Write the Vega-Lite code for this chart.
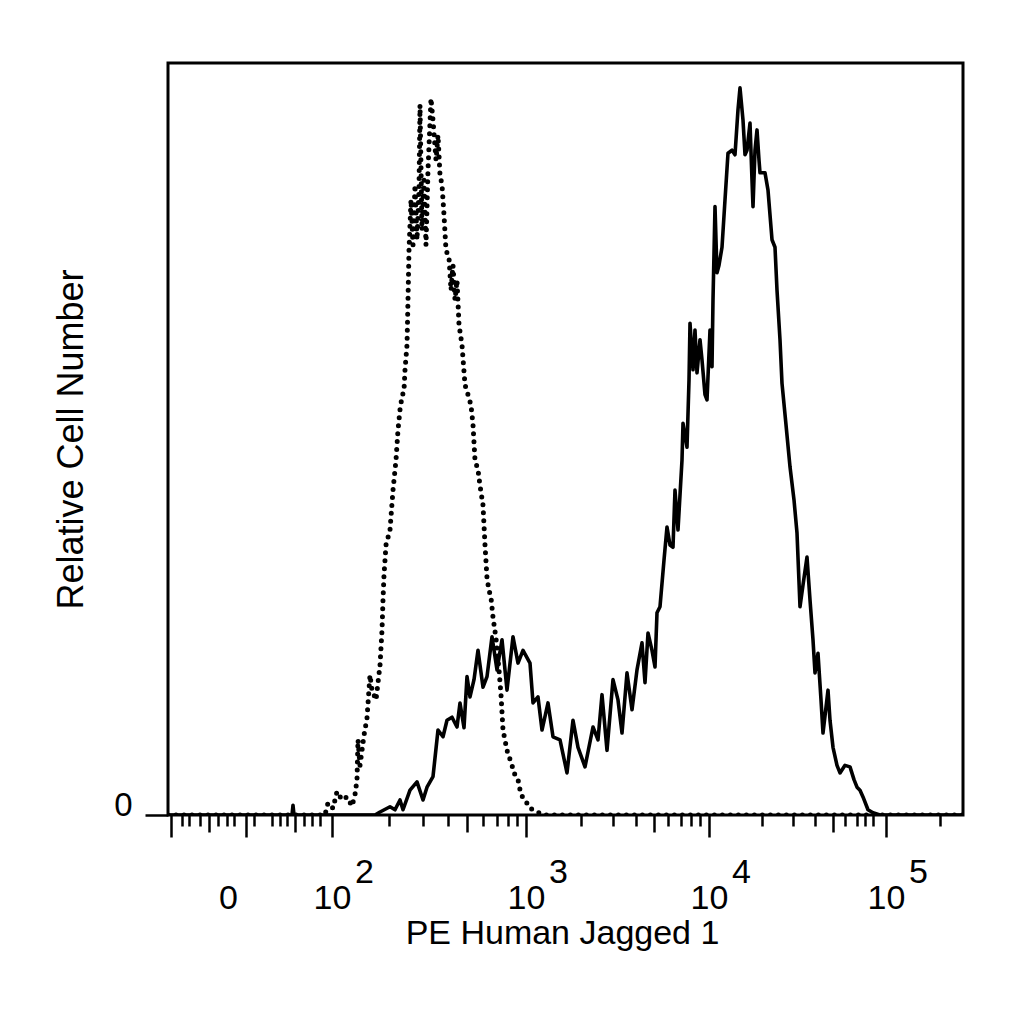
{
  "$schema": "https://vega.github.io/schema/vega-lite/v6.json",
  "width": 795,
  "height": 752,
  "autosize": "none",
  "padding": {"left": 168, "top": 63, "right": 61, "bottom": 209},
  "background": "white",
  "config": {
    "view": {"stroke": "black", "strokeWidth": 3},
    "axis": {
      "labelFont": "Liberation Sans",
      "titleFont": "Liberation Sans",
      "labelColor": "black",
      "titleColor": "black",
      "tickColor": "black",
      "titleFontWeight": "normal",
      "grid": false,
      "domain": false
    }
  },
  "datasets": {
    "control": [
      {"channel": 0, "count": 0}, {"channel": 122, "count": 0}, {"channel": 157, "count": 0},
      {"channel": 160, "count": 1.6}, {"channel": 165, "count": 0.9}, {"channel": 169, "count": 3.1},
      {"channel": 174, "count": 2.0}, {"channel": 179, "count": 2.4}, {"channel": 184, "count": 1.2},
      {"channel": 187, "count": 2.7}, {"channel": 189, "count": 4.7}, {"channel": 190, "count": 10.0},
      {"channel": 192, "count": 6.6}, {"channel": 196, "count": 10.6}, {"channel": 199, "count": 12.9},
      {"channel": 202, "count": 18.6}, {"channel": 204, "count": 16.6}, {"channel": 208, "count": 15.3},
      {"channel": 212, "count": 19.9}, {"channel": 214, "count": 24.6}, {"channel": 215, "count": 28.6},
      {"channel": 216, "count": 31.9}, {"channel": 217, "count": 33.9}, {"channel": 218, "count": 35.9},
      {"channel": 222, "count": 37.9}, {"channel": 225, "count": 43.2}, {"channel": 228, "count": 47.2},
      {"channel": 230, "count": 51.2}, {"channel": 232, "count": 53.9}, {"channel": 234, "count": 55.6},
      {"channel": 236, "count": 56.5}, {"channel": 237, "count": 59.2}, {"channel": 239, "count": 62.5},
      {"channel": 240, "count": 68.5}, {"channel": 241, "count": 75.1}, {"channel": 243, "count": 81.8},
      {"channel": 245, "count": 75.8}, {"channel": 247, "count": 83.8}, {"channel": 249, "count": 76.5},
      {"channel": 251, "count": 83.1}, {"channel": 252, "count": 94.4}, {"channel": 254, "count": 77.8},
      {"channel": 256, "count": 84.4}, {"channel": 258, "count": 75.8}, {"channel": 260, "count": 85.8},
      {"channel": 263, "count": 95.3}, {"channel": 265, "count": 92.4}, {"channel": 268, "count": 87.1},
      {"channel": 270, "count": 90.4}, {"channel": 272, "count": 85.1}, {"channel": 274, "count": 83.8},
      {"channel": 276, "count": 79.8}, {"channel": 278, "count": 75.1}, {"channel": 281, "count": 74.1},
      {"channel": 283, "count": 69.8}, {"channel": 285, "count": 73.1}, {"channel": 287, "count": 68.5},
      {"channel": 289, "count": 71.1}, {"channel": 291, "count": 65.2}, {"channel": 294, "count": 62.5},
      {"channel": 297, "count": 57.2}, {"channel": 300, "count": 55.9}, {"channel": 303, "count": 54.5},
      {"channel": 305, "count": 51.9}, {"channel": 307, "count": 47.2}, {"channel": 310, "count": 45.9},
      {"channel": 312, "count": 43.8}, {"channel": 315, "count": 41.2}, {"channel": 317, "count": 35.9},
      {"channel": 319, "count": 31.5}, {"channel": 321, "count": 29.9}, {"channel": 323, "count": 28.9},
      {"channel": 325, "count": 26.3}, {"channel": 328, "count": 23.5}, {"channel": 331, "count": 19.3},
      {"channel": 333, "count": 16.0}, {"channel": 335, "count": 11.3}, {"channel": 339, "count": 8.6},
      {"channel": 343, "count": 7.0}, {"channel": 347, "count": 5.3}, {"channel": 350, "count": 4.7},
      {"channel": 353, "count": 2.7}, {"channel": 357, "count": 2.0}, {"channel": 362, "count": 0.9},
      {"channel": 369, "count": 0.4}, {"channel": 377, "count": 0}, {"channel": 795, "count": 0}
    ],
    "stained": [
      {"channel": 0, "count": 0}, {"channel": 124, "count": 0}, {"channel": 125, "count": 1.3},
      {"channel": 126, "count": 0}, {"channel": 207, "count": 0}, {"channel": 212, "count": 0.4},
      {"channel": 222, "count": 1.1}, {"channel": 227, "count": 0.7}, {"channel": 232, "count": 2.0},
      {"channel": 235, "count": 0.7}, {"channel": 242, "count": 3.3}, {"channel": 249, "count": 4.4},
      {"channel": 255, "count": 2.0}, {"channel": 259, "count": 3.7}, {"channel": 265, "count": 5.1},
      {"channel": 270, "count": 11.3}, {"channel": 275, "count": 10.4}, {"channel": 279, "count": 12.6},
      {"channel": 284, "count": 13.0}, {"channel": 289, "count": 11.7}, {"channel": 292, "count": 14.9},
      {"channel": 296, "count": 11.6}, {"channel": 299, "count": 18.4}, {"channel": 302, "count": 15.7},
      {"channel": 306, "count": 18.0}, {"channel": 310, "count": 21.9}, {"channel": 315, "count": 17.0},
      {"channel": 319, "count": 18.4}, {"channel": 324, "count": 23.7}, {"channel": 329, "count": 19.3},
      {"channel": 334, "count": 23.3}, {"channel": 339, "count": 16.6}, {"channel": 345, "count": 23.7},
      {"channel": 350, "count": 20.2}, {"channel": 355, "count": 21.9}, {"channel": 362, "count": 20.2},
      {"channel": 365, "count": 14.9}, {"channel": 370, "count": 15.7}, {"channel": 374, "count": 11.3},
      {"channel": 380, "count": 14.9}, {"channel": 385, "count": 10.4}, {"channel": 392, "count": 10.0},
      {"channel": 399, "count": 5.6}, {"channel": 405, "count": 12.6}, {"channel": 410, "count": 9.0},
      {"channel": 417, "count": 6.4}, {"channel": 425, "count": 11.7}, {"channel": 430, "count": 10.0},
      {"channel": 434, "count": 16.0}, {"channel": 439, "count": 8.6}, {"channel": 445, "count": 18.0},
      {"channel": 450, "count": 15.3}, {"channel": 454, "count": 10.9}, {"channel": 459, "count": 18.9},
      {"channel": 464, "count": 14.0}, {"channel": 469, "count": 19.3}, {"channel": 474, "count": 22.9},
      {"channel": 477, "count": 17.6}, {"channel": 480, "count": 24.2}, {"channel": 484, "count": 21.9},
      {"channel": 487, "count": 19.7}, {"channel": 489, "count": 26.9}, {"channel": 492, "count": 27.7},
      {"channel": 496, "count": 33.9}, {"channel": 499, "count": 38.3}, {"channel": 502, "count": 35.9},
      {"channel": 505, "count": 35.6}, {"channel": 507, "count": 43.2}, {"channel": 510, "count": 37.9},
      {"channel": 514, "count": 47.2}, {"channel": 515, "count": 52.1}, {"channel": 519, "count": 48.9},
      {"channel": 521, "count": 57.8}, {"channel": 522, "count": 65.4}, {"channel": 525, "count": 59.2},
      {"channel": 527, "count": 64.5}, {"channel": 529, "count": 58.8}, {"channel": 532, "count": 63.2},
      {"channel": 534, "count": 60.5}, {"channel": 537, "count": 55.9}, {"channel": 539, "count": 55.2},
      {"channel": 542, "count": 64.5}, {"channel": 544, "count": 59.6}, {"channel": 545, "count": 68.5},
      {"channel": 547, "count": 80.9}, {"channel": 549, "count": 72.1}, {"channel": 551, "count": 73.1},
      {"channel": 554, "count": 75.5}, {"channel": 557, "count": 81.8}, {"channel": 560, "count": 88.0},
      {"channel": 564, "count": 88.4}, {"channel": 567, "count": 87.8}, {"channel": 570, "count": 93.8},
      {"channel": 572, "count": 96.7}, {"channel": 575, "count": 92.4}, {"channel": 577, "count": 87.8},
      {"channel": 579, "count": 88.4}, {"channel": 582, "count": 92.0}, {"channel": 584, "count": 84.4},
      {"channel": 585, "count": 80.9}, {"channel": 587, "count": 88.4}, {"channel": 589, "count": 91.1},
      {"channel": 591, "count": 87.1}, {"channel": 592, "count": 85.4}, {"channel": 597, "count": 85.4},
      {"channel": 600, "count": 83.1}, {"channel": 604, "count": 76.5}, {"channel": 607, "count": 75.5},
      {"channel": 609, "count": 69.8}, {"channel": 612, "count": 63.2}, {"channel": 614, "count": 57.4},
      {"channel": 618, "count": 51.9}, {"channel": 622, "count": 46.3}, {"channel": 626, "count": 41.9},
      {"channel": 629, "count": 37.5}, {"channel": 632, "count": 27.7}, {"channel": 635, "count": 30.6},
      {"channel": 639, "count": 34.3}, {"channel": 642, "count": 28.6}, {"channel": 645, "count": 23.3},
      {"channel": 647, "count": 18.9}, {"channel": 650, "count": 21.5}, {"channel": 653, "count": 15.3},
      {"channel": 655, "count": 10.9}, {"channel": 660, "count": 16.6}, {"channel": 662, "count": 12.6},
      {"channel": 665, "count": 9.0}, {"channel": 669, "count": 6.6}, {"channel": 672, "count": 5.6},
      {"channel": 677, "count": 6.6}, {"channel": 682, "count": 6.4}, {"channel": 686, "count": 4.7},
      {"channel": 689, "count": 3.7}, {"channel": 692, "count": 3.3}, {"channel": 695, "count": 2.4},
      {"channel": 700, "count": 0.7}, {"channel": 705, "count": 0.3}, {"channel": 712, "count": 0},
      {"channel": 795, "count": 0}
    ]
  },
  "layer": [
    {
      "data": {"name": "control"},
      "mark": {"type": "line", "color": "black", "strokeWidth": 5, "strokeDash": [0, 8], "strokeCap": "round", "clip": true},
      "encoding": {
        "x": {
          "field": "channel",
          "type": "quantitative",
          "scale": {"domain": [0, 795], "nice": false, "zero": false},
          "axis": {
            "orient": "bottom",
            "values": [3, 14, 21, 32, 41, 50, 59, 66, 78, 86, 104, 112, 119, 127, 136, 144, 152, 164, 221, 255, 280, 299, 315, 329, 340, 349, 358, 413, 445, 468, 486, 500, 513, 523, 532, 541, 594, 625, 647, 665, 677, 689, 697, 705, 718, 772],
            "tickSize": {
              "condition": [
                {"test": "datum.value == 3 || datum.value == 78 || datum.value == 164 || datum.value == 358 || datum.value == 541 || datum.value == 718", "value": 22},
                {"test": "datum.value == 41 || datum.value == 127 || datum.value == 299 || datum.value == 486 || datum.value == 665", "value": 17}
              ],
              "value": 11
            },
            "tickWidth": 2.5,
            "labelExpr": "(datum.value == 164 || datum.value == 358 || datum.value == 541 || datum.value == 718) ? '10' : (datum.value == 78 ? '0' : '')",
            "labelFontSize": 34,
            "labelBaseline": "alphabetic",
            "labelPadding": 71,
            "labelOffset": {"condition": {"test": "datum.value == 78", "value": -18}, "value": 0},
            "labelFlush": false,
            "labelOverlap": false,
            "title": "PE Human Jagged 1",
            "titleFontSize": 34,
            "titleX": 394,
            "titleY": 128,
            "titleBaseline": "alphabetic",
            "titleAlign": "center"
          }
        },
        "y": {
          "field": "count",
          "type": "quantitative",
          "scale": {"domain": [0, 100], "nice": false},
          "axis": {
            "orient": "left",
            "values": [0],
            "tickSize": 23,
            "tickWidth": 2.5,
            "labelFontSize": 33,
            "labelBaseline": "alphabetic",
            "labelPadding": 13,
            "title": "Relative Cell Number",
            "titleFontSize": 36,
            "titleAngle": -90,
            "titleX": -86,
            "titleY": 376,
            "titleBaseline": "alphabetic",
            "titleAlign": "center"
          }
        }
      }
    },
    {
      "data": {"name": "stained"},
      "mark": {"type": "line", "color": "black", "strokeWidth": 3.6, "strokeJoin": "round", "clip": true},
      "encoding": {
        "x": {
          "field": "channel",
          "type": "quantitative",
          "axis": {
            "orient": "bottom",
            "values": [164, 358, 541, 718],
            "ticks": false,
            "labelExpr": "datum.value == 164 ? '2' : datum.value == 358 ? '3' : datum.value == 541 ? '4' : '5'",
            "labelFontSize": 34,
            "labelBaseline": "alphabetic",
            "labelPadding": 67,
            "labelOffset": 32,
            "labelFlush": false,
            "labelOverlap": false,
            "title": null
          }
        },
        "y": {"field": "count", "type": "quantitative"}
      }
    }
  ],
  "resolve": {"axis": {"x": "independent"}}
}
